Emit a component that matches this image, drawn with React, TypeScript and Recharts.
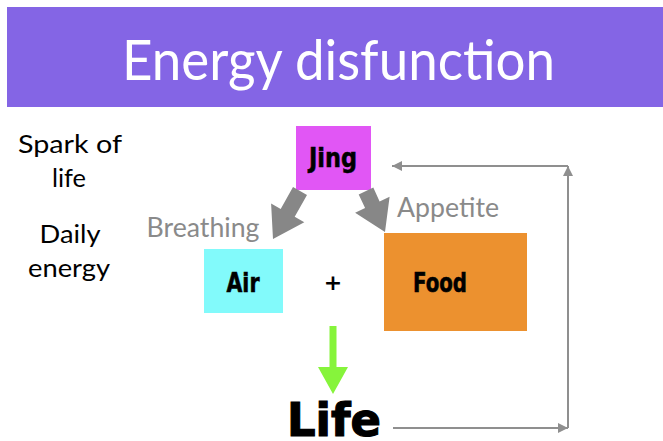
import React from "react";
import {
  ScatterChart,
  Scatter,
  XAxis,
  YAxis,
  ReferenceArea,
  ReferenceLine,
} from "recharts";

// ---- data ----
const titleText = "Energy disfunction";

const sideLabels = ["Spark of", "life", "Daily", "energy"];
const sideX = [70, 69, 70, 69];
const sideY = [153, 187, 243, 277];

const boxLabels = ["Jing", "Air", "Food"];
const boxLeft = [296, 204, 384];
const boxRight = [371, 283, 527];
const boxTop = [126, 249, 233];
const boxBottom = [190, 313, 331];
const boxColors = ["#E156F5", "#82FAFB", "#EC912F"];
const boxLabelX = [333, 243, 440];
const boxLabelY = [167, 292, 292];

const flowLabels = ["Breathing", "Appetite"];
const flowX = [203, 448];
const flowY = [237, 217];

const resultLabel = "Life";
const resultX = 334;
const resultY = 436;

const plusX = 333;
const plusY = 290;

// thick arrows from Jing (gray) and into Life (green)
const thickFromX = [300, 366];
const thickFromY = [191, 191];
const thickToX = [273, 385];
const thickToY = [239, 232];

const greenFrom = { x: 333, y: 326 };
const greenTo = { x: 333, y: 394 };

// feedback loop: Life -> right -> up -> back to Jing
const loopX = [393, 568, 568, 392];
const loopY = [428, 428, 166, 166];

// ---- helpers ----
function arrowPolygon(
  x1: number,
  y1: number,
  x2: number,
  y2: number,
  w: number,
  L: number,
  H: number
) {
  const dx = x2 - x1;
  const dy = y2 - y1;
  const len = Math.sqrt(dx * dx + dy * dy) || 1;
  const ux = dx / len;
  const uy = dy / len;
  const nx = -uy;
  const ny = ux;
  const bx = x2 - ux * L;
  const by = y2 - uy * L;
  const pts = [
    [x1 + nx * w, y1 + ny * w],
    [bx + nx * w, by + ny * w],
    [bx + nx * H, by + ny * H],
    [x2, y2],
    [bx - nx * H, by - ny * H],
    [bx - nx * w, by - ny * w],
    [x1 - nx * w, y1 - ny * w],
  ];
  return pts.map((p) => p[0].toFixed(1) + "," + p[1].toFixed(1)).join(" ");
}

const thickArrowShape = (color: string, w: number, L: number, H: number) => (p: any) =>
  (
    <polygon
      points={arrowPolygon(p.x1, p.y1, p.x2, p.y2, w, L, H)}
      fill={color}
      stroke="none"
    />
  );

const thinArrowShape = (p: any) => {
  const { x1, y1, x2, y2 } = p;
  const dx = x2 - x1;
  const dy = y2 - y1;
  const len = Math.sqrt(dx * dx + dy * dy) || 1;
  const ux = dx / len;
  const uy = dy / len;
  const nx = -uy;
  const ny = ux;
  const L = 10;
  const H = 5;
  const bx = x2 - ux * L;
  const by = y2 - uy * L;
  return (
    <g>
      <line x1={x1} y1={y1} x2={x2} y2={y2} stroke="#8F8F8F" strokeWidth={2} />
      <polygon
        points={`${x2},${y2} ${bx + nx * H},${by + ny * H} ${bx - nx * H},${by - ny * H}`}
        fill="#8F8F8F"
      />
    </g>
  );
};

type TStyle = {
  fill: string;
  fontSize: number;
  fontFamily: string;
  fontWeight?: any;
  strokeWidth?: number;
};

const textShape = (style: TStyle, widths?: number[]) => (p: any) => {
  const i = p.payload.i;
  return (
    <text
      x={p.cx}
      y={p.cy}
      textAnchor="middle"
      fill={style.fill}
      stroke={style.strokeWidth ? style.fill : "none"}
      strokeWidth={style.strokeWidth ?? 0}
      fontSize={style.fontSize}
      fontFamily={style.fontFamily}
      fontWeight={style.fontWeight ?? "normal"}
      textLength={widths ? widths[i] : undefined}
      lengthAdjust="spacingAndGlyphs"
    >
      {p.payload.label}
    </text>
  );
};

const titleData = [{ x: 338.5, y: 80, label: titleText, i: 0 }];
const sideData = sideLabels.map((l, i) => ({ x: sideX[i], y: sideY[i], label: l, i }));
const boxLabelData = boxLabels.map((l, i) => ({ x: boxLabelX[i], y: boxLabelY[i], label: l, i }));
const flowData = flowLabels.map((l, i) => ({ x: flowX[i], y: flowY[i], label: l, i }));
const resultData = [{ x: resultX, y: resultY, label: resultLabel, i: 0 }];
const plusData = [{ x: plusX, y: plusY, label: "+", i: 0 }];

export default function App() {
  return (
    <div style={{ position: "absolute", left: 0, top: 0, width: 663, height: 441, background: "#fff" }}>
      <ScatterChart width={663} height={441} margin={{ top: 0, right: 0, bottom: 0, left: 0 }}>
        <XAxis type="number" dataKey="x" domain={[0, 663]} hide allowDataOverflow />
        <YAxis type="number" dataKey="y" domain={[0, 441]} reversed hide allowDataOverflow />

        {/* title banner */}
        <ReferenceArea x1={7} x2={663} y1={7} y2={107} fill="#8465E5" fillOpacity={1} stroke="none" ifOverflow="visible" />

        {/* boxes */}
        {boxLabels.map((l, i) => (
          <ReferenceArea
            key={l}
            x1={boxLeft[i]}
            x2={boxRight[i]}
            y1={boxTop[i]}
            y2={boxBottom[i]}
            fill={boxColors[i]}
            fillOpacity={1}
            stroke="none"
            ifOverflow="visible"
          />
        ))}

        {/* gray thick arrows */}
        {thickFromX.map((fx, i) => (
          <ReferenceLine
            key={"ta" + i}
            segment={[
              { x: fx, y: thickFromY[i] },
              { x: thickToX[i], y: thickToY[i] },
            ]}
            ifOverflow="visible"
            shape={thickArrowShape("#878787", 8, 30, 19)}
          />
        ))}

        {/* green arrow */}
        <ReferenceLine
          segment={[greenFrom, greenTo]}
          ifOverflow="visible"
          shape={thickArrowShape("#86F43B", 3.5, 27, 15)}
        />

        {/* feedback loop */}
        {loopX.slice(0, -1).map((lx, i) => (
          <ReferenceLine
            key={"lp" + i}
            segment={[
              { x: lx, y: loopY[i] },
              { x: loopX[i + 1], y: loopY[i + 1] },
            ]}
            ifOverflow="visible"
            shape={thinArrowShape}
          />
        ))}

        <Scatter
          data={titleData}
          isAnimationActive={false}
          shape={textShape({ fill: "#FFFFFF", fontSize: 56, fontFamily: "Lato" }, [433])}
        />
        <Scatter
          data={sideData}
          isAnimationActive={false}
          shape={textShape({ fill: "#000000", fontSize: 25, fontFamily: "Lato" }, [104, 34, 61, 82])}
        />
        <Scatter
          data={flowData}
          isAnimationActive={false}
          shape={textShape({ fill: "#8A8A8A", fontSize: 26, fontFamily: "Lato" }, [113, 102])}
        />
        <Scatter
          data={boxLabelData}
          isAnimationActive={false}
          shape={textShape(
            {
              fill: "#000000",
              fontSize: 26,
              fontFamily: "DejaVu Sans Condensed, DejaVu Sans",
              fontWeight: "bold",
              strokeWidth: 0.5,
            },
            [48, 33, 54]
          )}
        />
        <Scatter
          data={plusData}
          isAnimationActive={false}
          shape={textShape({ fill: "#000000", fontSize: 22, fontFamily: "DejaVu Sans", fontWeight: "bold" })}
        />
        <Scatter
          data={resultData}
          isAnimationActive={false}
          shape={textShape(
            { fill: "#000000", fontSize: 46, fontFamily: "DejaVu Sans", fontWeight: "bold", strokeWidth: 1.2 },
            [94]
          )}
        />
      </ScatterChart>
    </div>
  );
}
